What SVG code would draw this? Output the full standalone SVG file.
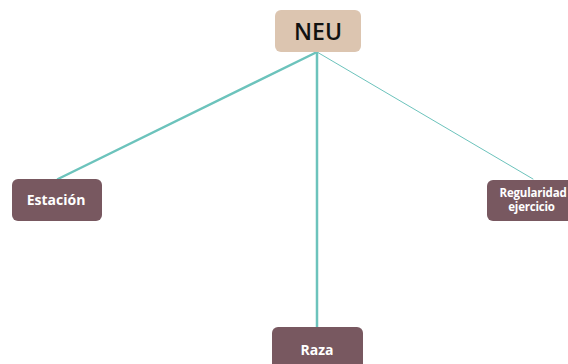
<svg xmlns="http://www.w3.org/2000/svg" width="568" height="364" viewBox="0 0 568 364">
<style>
.leaf{fill:#785860;}
.lt{fill:#ffffff;font-family:"Open Sans",sans-serif;font-weight:bold;text-anchor:middle;}
.c{stroke:#6cc3bc;fill:none;stroke-linecap:round;}
</style>
<rect width="568" height="364" fill="#ffffff"/>
<g id="connectors">
<line class="c" x1="317" y1="52" x2="58" y2="179" stroke-width="2.5"/>
<line class="c" x1="317" y1="52" x2="317" y2="327" stroke-width="2.5"/>
<line class="c" x1="317" y1="52" x2="533" y2="179" stroke-width="1"/>
</g>
<g id="neu">
<rect x="275" y="10" width="86" height="42" rx="6" fill="#dcc5b0"/>
<text x="318" y="40" font-family="Open Sans,sans-serif" font-weight="600" font-size="23" text-anchor="middle" fill="#111111">NEU</text>
</g>
<g id="estacion">
<rect class="leaf" x="12" y="179" width="90" height="42" rx="6"/>
<text class="lt" x="56" y="205" font-size="14">Estación</text>
</g>
<g id="regularidad">
<rect class="leaf" x="487" y="180" width="100" height="41" rx="6"/>
<text class="lt" x="533" y="196.5" font-size="11.5" letter-spacing="-0.2">Regularidad</text>
<text class="lt" x="531.5" y="210.5" font-size="11.5" letter-spacing="-0.2">ejercicio</text>
</g>
<g id="raza">
<rect class="leaf" x="272" y="327" width="91" height="50" rx="6"/>
<text class="lt" x="317" y="355" font-size="14">Raza</text>
</g>
</svg>
